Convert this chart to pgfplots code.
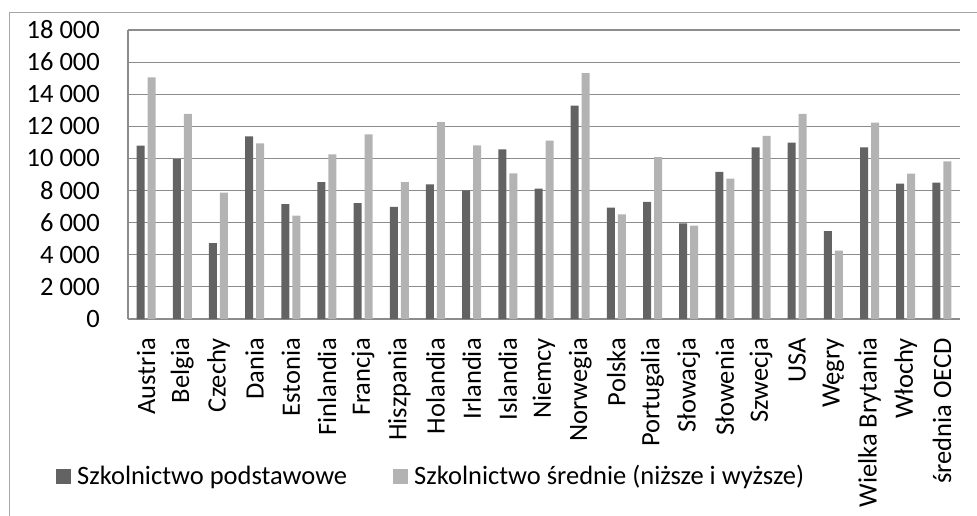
\documentclass[border=0pt]{standalone}
\usepackage{fontspec}
\setmainfont{Carlito}
\usepackage{pgfplots}
\pgfplotsset{compat=1.18}
\usepackage{pgfplotstable}
\definecolor{darkbar}{HTML}{636363}
\definecolor{lightbar}{HTML}{B3B3B3}
\definecolor{gridc}{HTML}{8C8C8C}
\definecolor{framec}{HTML}{A6A6A6}
\pgfplotstableread{
idx pod sre
0 10800 15050
1 9960 12770
2 4730 7870
3 11380 10940
4 7160 6440
5 8530 10260
6 7220 11500
7 6980 8530
8 8390 12270
9 8010 10820
10 10570 9070
11 8120 11110
12 13290 15320
13 6930 6520
14 7290 10090
15 5960 5810
16 9160 8740
17 10690 11400
18 10980 12770
19 5480 4260
20 10690 12230
21 8430 9050
22 8490 9820
}\datatable
\newcommand\chartfont{\fontsize{26.5}{31}\selectfont}
\begin{document}
\chartfont
\begin{tikzpicture}
\begin{axis}[
  at={(128pt,-319pt)}, anchor=south west,
  scale only axis, width=832pt, height=289pt,
  ymin=0, ymax=18000, xmin=-0.5, xmax=22.5,
  enlargelimits=false,
  ybar=3pt, bar width=8pt,
  axis lines*=left,
  axis line style={gridc, line width=1.2pt},
  ymajorgrids, grid style={gridc, line width=1.2pt},
  major tick length=0pt, tick style={draw=none},
  ytick={0,2000,...,18000},
  scaled y ticks=false,
  /pgf/number format/1000 sep={\ },
  /pgf/number format/assume math mode=true,
  yticklabel style={anchor=east, inner sep=0pt, xshift=-28pt, font=\chartfont},
  xtick={0,...,22},
  xticklabels={Austria,Belgia,Czechy,Dania,Estonia,Finlandia,Francja,Hiszpania,Holandia,Irlandia,Islandia,Niemcy,Norwegia,Polska,Portugalia,Słowacja,Słowenia,Szwecja,USA,Węgry,Wielka Brytania,Włochy,średnia OECD},
  xticklabel style={yshift=-19pt, rotate=90, anchor=east, inner sep=0pt, font=\chartfont},
  legend style={draw=none, fill=none, at={(-0.0865,-0.546)}, anchor=west,
    inner sep=0pt, legend columns=2, font=\chartfont,
    nodes={inner sep=0pt},
    /tikz/every odd column/.append style={column sep=6pt},
    /tikz/every even column/.append style={column sep=46pt}},
]
\addplot[fill=darkbar, draw=none, legend image code/.code={\fill[darkbar] (0pt,-7.5pt) rectangle (15pt,7.5pt);}] table[x=idx, y=pod] {\datatable};
\addplot[fill=lightbar, draw=none, legend image code/.code={\fill[lightbar] (0pt,-7.5pt) rectangle (15pt,7.5pt);}] table[x=idx, y=sre] {\datatable};
\legend{Szkolnictwo podstawowe, Szkolnictwo średnie (niższe i wyższe)}
\end{axis}
\draw[framec, line width=1pt] (9pt,-516pt) -- (9pt,-13pt) -- (977pt,-13pt);
\pgfresetboundingbox
\useasboundingbox (0pt,0pt) rectangle (977pt,-516pt);
\end{tikzpicture}
\end{document}
